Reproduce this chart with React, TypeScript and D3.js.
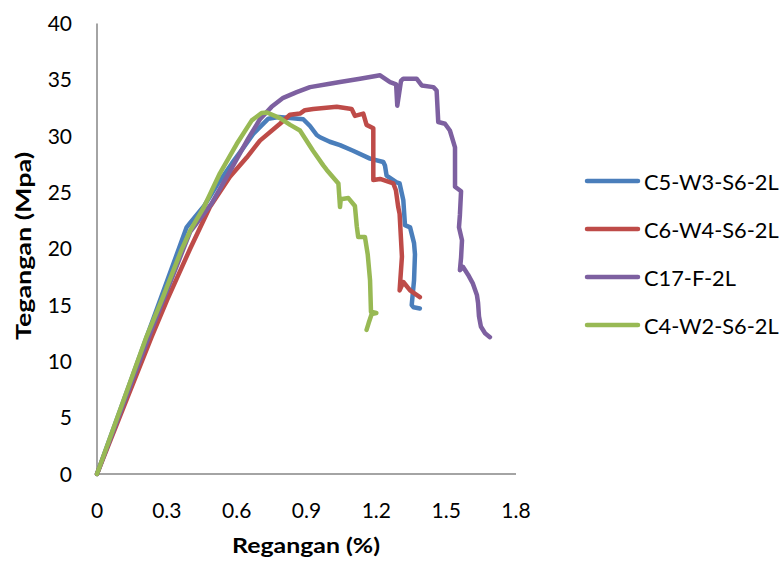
import React from "react";
import * as d3 from "d3";

// Stress–strain curves: strain (%) and stress (MPa) per specimen
const seriesNames = ["C5-W3-S6-2L", "C6-W4-S6-2L", "C17-F-2L", "C4-W2-S6-2L"];
const seriesColors = ["#4a7ebb", "#be4b48", "#7d60a0", "#98b954"];

const c5Strain = [0, 0.2, 0.385, 0.4, 0.46, 0.52, 0.58, 0.63, 0.671, 0.736, 0.78, 0.83, 0.886, 0.915, 0.944, 0.958, 1.0, 1.044, 1.1, 1.173, 1.23, 1.237, 1.244, 1.287, 1.3, 1.316, 1.323, 1.345, 1.362, 1.366, 1.362, 1.352, 1.36, 1.387];
const c5Stress = [0, 11.4, 21.9, 22.3, 23.8, 25.8, 27.6, 29.0, 30.2, 31.55, 31.7, 31.6, 31.5, 30.9, 30.1, 29.9, 29.5, 29.2, 28.7, 28.0, 27.7, 27.4, 26.5, 25.9, 25.8, 24.3, 22.1, 21.9, 20.5, 19.5, 17.2, 15.0, 14.8, 14.7];

const c6Strain = [0, 0.235, 0.3, 0.4, 0.485, 0.571, 0.643, 0.7, 0.786, 0.829, 0.872, 0.893, 0.929, 1.03, 1.094, 1.108, 1.144, 1.158, 1.187, 1.187, 1.216, 1.273, 1.284, 1.294, 1.3, 1.31, 1.3, 1.316, 1.345, 1.387];
const c6Stress = [0, 12.2, 15.4, 20.0, 23.7, 26.4, 28.1, 29.6, 31.1, 31.9, 32.0, 32.3, 32.4, 32.6, 32.4, 31.8, 32.0, 31.0, 30.7, 26.1, 26.2, 25.8, 25.2, 23.7, 23.1, 19.3, 16.3, 17.05, 16.3, 15.7];

const c17Strain = [0, 0.223, 0.4, 0.492, 0.58, 0.65, 0.7, 0.75, 0.8, 0.858, 0.915, 1.0, 1.044, 1.13, 1.216, 1.259, 1.285, 1.29, 1.306, 1.316, 1.373, 1.395, 1.445, 1.459, 1.466, 1.495, 1.516, 1.538, 1.538, 1.564, 1.559, 1.555, 1.568, 1.564, 1.559, 1.572, 1.594, 1.615, 1.632, 1.637, 1.641, 1.649, 1.667, 1.688];
const c17Stress = [0, 12.2, 21.5, 24.0, 27.2, 29.8, 31.5, 32.6, 33.4, 33.9, 34.35, 34.65, 34.8, 35.1, 35.4, 34.8, 34.6, 32.7, 34.9, 35.1, 35.1, 34.5, 34.35, 34.05, 31.25, 31.1, 30.5, 29.0, 25.5, 25.1, 23.0, 21.9, 20.75, 19.2, 18.1, 18.4, 17.7, 16.9, 15.9, 15.2, 14.0, 13.1, 12.5, 12.15];

const c4Strain = [0, 0.213, 0.285, 0.363, 0.4, 0.457, 0.528, 0.6, 0.665, 0.707, 0.73, 0.786, 0.83, 0.872, 0.928, 0.972, 0.987, 1.037, 1.044, 1.047, 1.08, 1.108, 1.116, 1.122, 1.151, 1.163, 1.173, 1.177, 1.2, 1.18, 1.167, 1.158];
const c4Stress = [0, 12.2, 15.8, 19.9, 21.6, 23.6, 26.7, 29.3, 31.4, 32.05, 32.1, 31.6, 31.0, 30.5, 28.7, 27.4, 27.0, 25.8, 23.7, 24.4, 24.5, 23.8, 22.0, 21.05, 21.05, 19.5, 17.2, 14.4, 14.3, 14.2, 13.4, 12.8];

const strainSets = [c5Strain, c6Strain, c17Strain, c4Strain];
const stressSets = [c5Stress, c6Stress, c17Stress, c4Stress];

const xTicks = [0, 0.3, 0.6, 0.9, 1.2, 1.5, 1.8];
const yTicks = [0, 5, 10, 15, 20, 25, 30, 35, 40];

const W = 784;
const H = 562;
const FONT = "Lato, 'Open Sans', sans-serif";

export default function App() {
  const x = d3.scaleLinear().domain([0, 1.8]).range([97, 516]);
  const y = d3.scaleLinear().domain([0, 40]).range([474, 23.5]);

  const line = d3
    .line<[number, number]>()
    .x((d) => x(d[0]))
    .y((d) => y(d[1]));

  const series = seriesNames.map((name, i) => ({
    name,
    color: seriesColors[i],
    points: strainSets[i].map((s, j) => [s, stressSets[i][j]] as [number, number]),
  }));

  const axisColor = "#868686";

  return (
    <svg
      width={W}
      height={H}
      style={{ position: "absolute", left: 0, top: 0, background: "#fff" }}
      fontFamily={FONT}
    >
      <rect x={0} y={0} width={W} height={H} fill="#fff" />
      {/* axes */}
      <line x1={x(0)} x2={x(0)} y1={y(40)} y2={y(0)} stroke={axisColor} strokeWidth={1.5} />
      <line x1={x(0)} x2={x(1.8)} y1={y(0)} y2={y(0)} stroke={axisColor} strokeWidth={1.5} />

      {yTicks.map((t) => (
        <text key={"y" + t} x={72} y={y(t) + 7.5} textAnchor="end" fontSize={21} fill="#000">
          {t}
        </text>
      ))}
      {xTicks.map((t) => (
        <text key={"x" + t} x={x(t)} y={518} textAnchor="middle" fontSize={21} fill="#000">
          {t}
        </text>
      ))}

      <text
        x={306}
        y={553}
        textAnchor="middle"
        fontSize={20}
        fontWeight="bold"
        fill="#000"
        textLength={148}
        lengthAdjust="spacingAndGlyphs"
      >
        Regangan (%)
      </text>
      <text
        transform={`translate(31,246) rotate(-90)`}
        textAnchor="middle"
        fontSize={20}
        fontWeight="bold"
        fill="#000"
        textLength={188}
        lengthAdjust="spacingAndGlyphs"
      >
        Tegangan (Mpa)
      </text>

      {/* curves */}
      {series.map((s) => (
        <path
          key={s.name}
          d={line(s.points) || ""}
          fill="none"
          stroke={s.color}
          strokeWidth={4.5}
          strokeLinejoin="round"
          strokeLinecap="round"
        />
      ))}

      {/* legend */}
      {series.map((s, i) => {
        const ly = 181 + i * 48;
        return (
          <g key={"lg" + s.name}>
            <line x1={587} x2={638} y1={ly} y2={ly} stroke={s.color} strokeWidth={4.5} strokeLinecap="round" />
            <text x={644} y={ly + 8.5} fontSize={21.8} fill="#000">
              {s.name}
            </text>
          </g>
        );
      })}
    </svg>
  );
}
